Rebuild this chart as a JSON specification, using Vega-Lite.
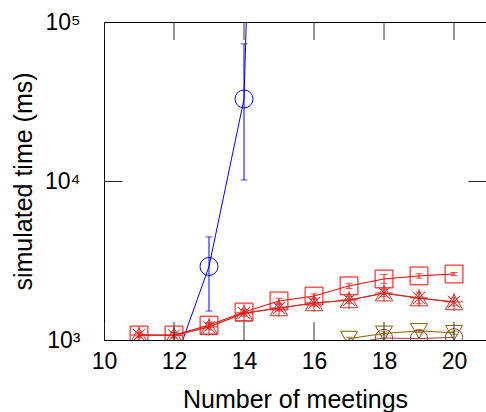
{
  "$schema": "https://vega.github.io/schema/vega-lite/v6.json",
  "width": 382,
  "height": 318,
  "autosize": {"type": "none"},
  "padding": {"left": 104, "top": 22, "right": 0, "bottom": 72},
  "config": {
    "view": {"stroke": null},
    "font": "Liberation Sans",
    "axis": {"domainColor": "black", "tickColor": "black", "labelColor": "black", "titleColor": "black", "titleFontWeight": "normal", "gridColor": "#222222", "gridOpacity": 1, "gridWidth": 1}
  },
  "datasets": {
    "pts": [
      {"s": "A", "x": 12, "y": 700},
      {"s": "A", "x": 13, "y": 2900, "lo": 1520, "hi": 4450},
      {"s": "A", "x": 14, "y": 32800, "lo": 10150, "hi": 72800},
      {"s": "A", "x": 15, "y": 1000000000000},
      {"s": "B", "x": 11, "y": 1075, "lo": 1045, "hi": 1110},
      {"s": "B", "x": 12, "y": 1075, "lo": 1040, "hi": 1115},
      {"s": "B", "x": 13, "y": 1240, "lo": 1195, "hi": 1290},
      {"s": "B", "x": 14, "y": 1500, "lo": 1450, "hi": 1550},
      {"s": "B", "x": 15, "y": 1760, "lo": 1700, "hi": 1830},
      {"s": "B", "x": 16, "y": 1890, "lo": 1830, "hi": 1950},
      {"s": "B", "x": 17, "y": 2190, "lo": 2110, "hi": 2270},
      {"s": "B", "x": 18, "y": 2420, "lo": 2260, "hi": 2580},
      {"s": "B", "x": 19, "y": 2530, "lo": 2450, "hi": 2610},
      {"s": "B", "x": 20, "y": 2600, "lo": 2540, "hi": 2660},
      {"s": "C", "x": 11, "y": 1075, "lo": 1030, "hi": 1120},
      {"s": "C", "x": 12, "y": 1070, "lo": 1025, "hi": 1115},
      {"s": "C", "x": 13, "y": 1210, "lo": 1160, "hi": 1270},
      {"s": "C", "x": 14, "y": 1480, "lo": 1410, "hi": 1550},
      {"s": "C", "x": 15, "y": 1590, "lo": 1520, "hi": 1670},
      {"s": "C", "x": 16, "y": 1710, "lo": 1630, "hi": 1800},
      {"s": "C", "x": 17, "y": 1785, "lo": 1700, "hi": 1880},
      {"s": "C", "x": 18, "y": 1975, "lo": 1880, "hi": 2080},
      {"s": "C", "x": 19, "y": 1840, "lo": 1690, "hi": 2000},
      {"s": "C", "x": 20, "y": 1735, "lo": 1640, "hi": 1840},
      {"s": "D", "x": 11, "y": 1070},
      {"s": "D", "x": 12, "y": 1065},
      {"s": "D", "x": 13, "y": 1205},
      {"s": "D", "x": 14, "y": 1470},
      {"s": "D", "x": 15, "y": 1585},
      {"s": "D", "x": 16, "y": 1705},
      {"s": "D", "x": 17, "y": 1780},
      {"s": "D", "x": 18, "y": 1965},
      {"s": "D", "x": 19, "y": 1830},
      {"s": "D", "x": 20, "y": 1730},
      {"s": "E", "x": 17, "y": 950},
      {"s": "E", "x": 18, "y": 1030},
      {"s": "E", "x": 19, "y": 1020},
      {"s": "E", "x": 20, "y": 1040},
      {"s": "F", "x": 17, "y": 1020, "lo": 1000, "hi": 1040},
      {"s": "F", "x": 18, "y": 1100, "lo": 1075, "hi": 1125},
      {"s": "F", "x": 19, "y": 1140, "lo": 1115, "hi": 1165},
      {"s": "F", "x": 20, "y": 1110, "lo": 1085, "hi": 1135}
    ],
    "xticks": [{"tx": 10}, {"tx": 12}, {"tx": 14}, {"tx": 16}, {"tx": 18}, {"tx": 20}]
  },
  "data": {"name": "pts"},
  "layer": [
    {
      "mark": {"type": "line", "clip": true, "strokeWidth": 1},
      "encoding": {
        "x": {"field": "x", "type": "quantitative", "scale": {"domain": [10, 20.914], "nice": false, "zero": false},
          "axis": {"orient": "bottom", "values": [10, 12, 14, 16, 18, 20], "ticks": false, "tickSize": 0, "grid": false, "labelFontSize": 23, "labelPadding": 10, "labelFlush": false, "title": "Number of meetings", "titleFontSize": 25, "titlePadding": 14}},
        "y": {"field": "y", "type": "quantitative", "scale": {"type": "log", "domain": [1000, 100000], "nice": false},
          "axis": {"orient": "left", "values": [1000, 10000, 100000], "ticks": false, "tickSize": 0, "grid": true, "gridDash": [18, 346], "labelFontSize": 23, "labelPadding": 24, "labelFlush": false,
            "labelExpr": "datum.value == 1000 ? '10³' : datum.value == 10000 ? '10⁴' : '10⁵'",
            "title": "simulated time (ms)", "titleFontSize": 25, "titlePadding": 8}},
        "color": {"field": "s", "type": "nominal", "scale": {"domain": ["A", "B", "C", "D", "E", "F"], "range": ["#0000ff", "#ff0000", "#e81c1c", "#c83228", "#a83a3a", "#806000"]}, "legend": null}
      }
    },
    {
      "transform": [{"filter": "isValid(datum.lo)"}],
      "mark": {"type": "rule", "clip": true, "strokeWidth": 1},
      "encoding": {
        "x": {"field": "x", "type": "quantitative", "axis": null},
        "y": {"field": "lo", "type": "quantitative", "axis": null},
        "y2": {"field": "hi"},
        "color": {"field": "s", "type": "nominal", "legend": null}
      }
    },
    {
      "transform": [{"filter": "isValid(datum.lo)"}],
      "mark": {"type": "tick", "orient": "horizontal", "size": 7, "thickness": 1, "clip": true},
      "encoding": {
        "x": {"field": "x", "type": "quantitative", "axis": null},
        "y": {"field": "lo", "type": "quantitative", "axis": null},
        "color": {"field": "s", "type": "nominal", "legend": null}
      }
    },
    {
      "transform": [{"filter": "isValid(datum.hi)"}],
      "mark": {"type": "tick", "orient": "horizontal", "size": 7, "thickness": 1, "clip": true},
      "encoding": {
        "x": {"field": "x", "type": "quantitative", "axis": null},
        "y": {"field": "hi", "type": "quantitative", "axis": null},
        "color": {"field": "s", "type": "nominal", "legend": null}
      }
    },
    {
      "transform": [{"filter": "datum.y >= 1000 && datum.y <= 100000"}],
      "mark": {"type": "point", "filled": false, "strokeWidth": 1, "opacity": 1, "clip": true},
      "encoding": {
        "x": {"field": "x", "type": "quantitative", "axis": null},
        "y": {"field": "y", "type": "quantitative", "axis": null},
        "color": {"field": "s", "type": "nominal", "legend": null},
        "shape": {"field": "s", "type": "nominal", "scale": {"domain": ["A", "B", "C", "D", "E", "F"], "range": ["circle", "square", "M-1,0H1M0,-1V1M-0.7,-0.7L0.7,0.7M-0.7,0.7L0.7,-0.7", "triangle-up", "circle", "triangle-down"]}, "legend": null},
        "size": {"field": "s", "type": "nominal", "scale": {"domain": ["A", "B", "C", "D", "E", "F"], "range": [324, 289, 256, 180, 324, 180]}, "legend": null}
      }
    },
    {
      "mark": {"type": "point", "opacity": 0},
      "encoding": {
        "x": {"field": "x", "type": "quantitative",
          "axis": {"orient": "top", "ticks": false, "grid": false, "domain": true, "labels": false, "title": null}},
        "y": {"field": "y", "type": "quantitative", "axis": null}
      }
    },
    {
      "data": {"name": "xticks"},
      "mark": {"type": "tick", "orient": "vertical", "size": 36, "thickness": 1, "clip": true, "color": "#333333", "opacity": 1},
      "encoding": {
        "x": {"field": "tx", "type": "quantitative", "axis": null},
        "y": {"datum": 1000, "type": "quantitative", "axis": null}
      }
    },
    {
      "data": {"name": "xticks"},
      "mark": {"type": "tick", "orient": "vertical", "size": 36, "thickness": 1, "clip": true, "color": "#333333", "opacity": 1},
      "encoding": {
        "x": {"field": "tx", "type": "quantitative", "axis": null},
        "y": {"datum": 100000, "type": "quantitative", "axis": null}
      }
    }
  ],
  "resolve": {"axis": {"x": "independent", "y": "independent"}}
}
